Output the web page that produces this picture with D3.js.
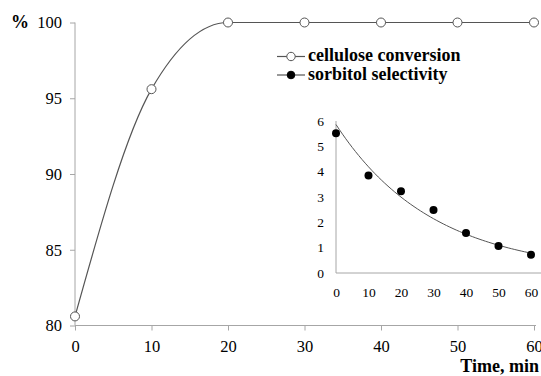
<!DOCTYPE html>
<html>
<head>
<meta charset="utf-8">
<script src="https://cdn.jsdelivr.net/npm/d3@7"></script>
<style>
  html, body { margin: 0; padding: 0; background: #fff; }
  svg { display: block; }
</style>
</head>
<body>
<svg id="chart" width="541" height="376"></svg>
<script>
// Reaction time (min)
const timeMin = [0, 10, 20, 30, 40, 50, 60];
// Cellulose conversion, %
const conversion = [80.6, 95.6, 100, 100, 100, 100, 100];
// Sorbitol selectivity, % (inset)
const selectivity = [5.52, 3.85, 3.23, 2.49, 1.58, 1.07, 0.72];

const mainXTicks = [0, 10, 20, 30, 40, 50, 60];
const mainYTicks = [80, 85, 90, 95, 100];
const insetXTicks = [0, 10, 20, 30, 40, 50, 60];
const insetYTicks = [0, 1, 2, 3, 4, 5, 6];

const FONT = "'Liberation Serif'";
const svg = d3.select("#chart");
const axisColor = "#a6a6a6";
const lineColor = "#555";

// ---- main chart ----
const x = d3.scaleLinear().domain([0, 60]).range([75, 534]);
const y = d3.scaleLinear().domain([80, 100]).range([325.5, 22.5]);

const gx = svg.append("g").attr("transform", `translate(0,${y(80)})`)
  .call(d3.axisBottom(x).tickValues(mainXTicks).tickFormat(d3.format("d")).tickSize(5).tickPadding(10));
const gy = svg.append("g").attr("transform", `translate(${x(0)},0)`)
  .call(d3.axisLeft(y).tickValues(mainYTicks).tickFormat(d3.format("d")).tickSize(5).tickPadding(8));
[gx, gy].forEach(g => {
  g.selectAll("path, line").attr("stroke", axisColor);
  g.selectAll("text").style("font-family", FONT).style("font-size", "16.5px").attr("fill", "#000");
});
gx.select(".domain").attr("d", `M${x(0)},0H${x(60) + 2}`);
gy.select(".domain").attr("d", `M0,${y(80)}V${y(100)}`);

const pts = timeMin.map((t, i) => [t, conversion[i]]);
svg.append("path")
  .attr("d", d3.line().x(d => x(d[0])).y(d => y(d[1])).curve(d3.curveMonotoneX)(pts))
  .attr("fill", "none").attr("stroke", lineColor).attr("stroke-width", 1.2);
svg.append("g").selectAll("circle").data(pts).join("circle")
  .attr("cx", d => x(d[0])).attr("cy", d => y(d[1])).attr("r", 4.5)
  .attr("fill", "#fff").attr("stroke", lineColor).attr("stroke-width", 1);

svg.append("text").attr("x", 11).attr("y", 28)
  .style("font-family", FONT).style("font-size", "18px").attr("font-weight", "bold").text("%");
svg.append("text").attr("x", 539).attr("y", 372).attr("text-anchor", "end")
  .style("font-family", FONT).style("font-size", "18px").attr("font-weight", "bold").text("Time, min");

// ---- legend ----
const legend = [
  { label: "cellulose conversion", fill: "#fff", r: 4.2 },
  { label: "sorbitol selectivity", fill: "#000", r: 3.8 }
];
const lg = svg.append("g");
legend.forEach((d, i) => {
  const cy = 56.5 + i * 18.5;
  lg.append("line").attr("x1", 277).attr("x2", 305).attr("y1", cy).attr("y2", cy)
    .attr("stroke", lineColor).attr("stroke-width", 1.2);
  lg.append("circle").attr("cx", 291).attr("cy", cy).attr("r", d.r)
    .attr("fill", d.fill).attr("stroke", d.fill === "#fff" ? lineColor : "#000");
  lg.append("text").attr("x", 308).attr("y", cy + 4.5)
    .style("font-family", FONT).style("font-size", "18px").attr("font-weight", "bold").text(d.label);
});

// ---- inset: sorbitol selectivity with exponential trendline ----
const ix = d3.scaleLinear().domain([0, 60]).range([336, 531]);
const iy = d3.scaleLinear().domain([0, 6]).range([273, 121]);

const igx = svg.append("g").attr("transform", `translate(0,${iy(0)})`)
  .call(d3.axisBottom(ix).tickValues(insetXTicks).tickFormat(d3.format("d")).tickSize(0).tickPadding(14));
const igy = svg.append("g").attr("transform", `translate(${ix(0)},0)`)
  .call(d3.axisLeft(iy).tickValues(insetYTicks).tickFormat(d3.format("d")).tickSize(0).tickPadding(12));
[igx, igy].forEach(g => {
  g.selectAll("path, line").attr("stroke", axisColor);
  g.selectAll("text").style("font-family", FONT).style("font-size", "13.5px").attr("fill", "#000");
});
igx.select(".domain").attr("d", `M${ix(0)},0H541`);
igy.select(".domain").attr("d", `M0,${iy(0)}V${iy(6)}`);

// least-squares fit of ln(selectivity) against time
const lnS = selectivity.map(Math.log);
const mx = d3.mean(timeMin), my = d3.mean(lnS);
const k = d3.sum(timeMin, (t, i) => (t - mx) * (lnS[i] - my)) / d3.sum(timeMin, t => (t - mx) ** 2);
const a = Math.exp(my - k * mx);
const trend = d3.range(0, 60.01, 1).map(t => [t, a * Math.exp(k * t)]);
svg.append("path")
  .attr("d", d3.line().x(d => ix(d[0])).y(d => iy(d[1]))(trend))
  .attr("fill", "none").attr("stroke", lineColor).attr("stroke-width", 1);

svg.append("g").selectAll("circle").data(timeMin.map((t, i) => [t, selectivity[i]])).join("circle")
  .attr("cx", d => ix(d[0])).attr("cy", d => iy(d[1])).attr("r", 4)
  .attr("fill", "#000");
</script>
</body>
</html>
